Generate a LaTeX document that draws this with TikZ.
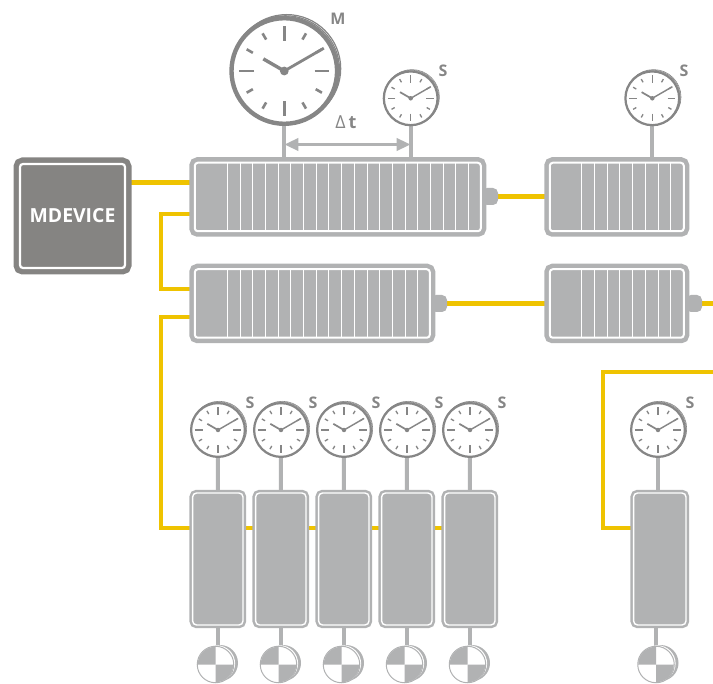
\documentclass[tikz,border=0pt]{standalone}
\usepackage{fontspec}
\setmainfont{Open Sans}
\usetikzlibrary{arrows.meta,backgrounds}
\definecolor{wireyellow}{HTML}{EFC300}
\definecolor{boxgrey}{HTML}{B1B2B3}
\definecolor{devgrey}{HTML}{858482}
\definecolor{clockgrey}{HTML}{868686}

\tikzset{
  module/.style={rectangle, outer sep=0pt, rounded corners=3pt, draw=white, fill=boxgrey, line width=2pt,
    preaction={draw=boxgrey, line width=11pt}, minimum height=68.5pt},
  slave/.style={rectangle, outer sep=0pt, rounded corners=4pt, draw=white, fill=boxgrey, line width=1.4pt,
    preaction={draw=boxgrey, line width=6.4pt}, minimum height=132pt},
  device/.style={rectangle, outer sep=0pt, rounded corners=3pt, draw=white, fill=devgrey, line width=2.2pt,
    preaction={draw=devgrey, line width=13pt}, minimum width=105pt, minimum height=104pt,
    text=white, font=\bfseries\fontsize{19.4}{19.4}\selectfont},
  stub/.style={rectangle, rounded corners=5pt, fill=boxgrey, minimum width=16pt, minimum height=17pt, inner sep=0pt},
  wire/.style={draw=wireyellow, line width=4.4pt},
  stem/.style={draw=boxgrey, line width=4pt},
  stripe/.style={draw=white, line width=1pt},
  dial/.style={circle, draw=clockgrey, fill=white, inner sep=0pt},
  encoder/.style={circle, draw=boxgrey, fill=white, line width=1pt, inner sep=0pt, minimum size=36.5pt},
  tag/.style={text=clockgrey, font=\bfseries\fontsize{16}{16}\selectfont}
}

% name, x, y, radius
\newcommand{\clockdial}[4]{
  \pgfmathsetmacro{\cs}{#4/55}
  \draw[clockgrey, line width=\cs*1.2pt] (#2+\cs*2.4,#3-\cs*2.4) circle ({#4-\cs*1});
  \draw[clockgrey, line width=\cs*1.2pt] (#2+\cs*1.2,#3-\cs*1.2) circle ({#4-\cs*1});
  \node[dial, line width=\cs*4.4pt, minimum size=2*#4*1pt-\cs*4.4pt] (#1) at (#2,#3) {};
  \foreach \a in {0,90,180,270}
    \draw[clockgrey, line width=\cs*2.4pt] (#1.center)++(\a:{#4*0.55}) -- ++(\a:{#4*0.27});
  \foreach \a in {30,60,120,150,210,240,300,330}
    \draw[clockgrey, line width=\cs*2.6pt] (#1.center)++(\a:{#4*0.66}) -- ++(\a:{#4*0.13});
  \draw[clockgrey, line width=\cs*3.4pt] (#1.center) -- ++(210:{#4*0.44});
  \draw[clockgrey, line width=\cs*2.8pt] (#1.center) -- ++(-30:{#4*0.83});
  \fill[clockgrey] (#1.center) circle ({\cs*4.4});
}

% name, x, y
\newcommand{\encoderdisc}[3]{
  \fill[boxgrey] (#2+4.5,#3-1.5) circle (18);
  \fill[white] (#2+1.4,#3-1) circle (18.2);
  \node[encoder] (#1) at (#2,#3) {};
  \fill[boxgrey] (#1.center) -- ++(-17.8,0) arc[start angle=180, end angle=270, radius=17.8] -- cycle;
  \fill[boxgrey] (#1.center) -- ++(17.8,0) arc[start angle=0, end angle=90, radius=17.8] -- cycle;
}

% name, first offset, number of stripes
\newcommand{\stripes}[3]{
  \foreach \k in {0,...,#3}
    \draw[stripe] ([xshift=#2pt+\k*12.7pt]#1.north west) -- ([xshift=#2pt+\k*12.7pt]#1.south west);
}

\begin{document}
\begin{tikzpicture}[x=1pt,y=-1pt]
  \useasboundingbox (0,0) rectangle (713,684);

  % Device and modules
  \node[device] (mdevice) at (72.5,216) {MDEVICE};
  \node[stub] (stubA) at (490,196.5) {};
  \node[module, minimum width=286pt] (modA) at (337.8,197) {};
  \node[stub] (stubB) at (439,303.5) {};
  \node[module, minimum width=235pt] (modB) at (312.3,303.5) {};
  \node[module, minimum width=134pt] (modC) at (616.8,197) {};
  \node[stub] (stubD) at (694,303.5) {};
  \node[module, minimum width=134pt] (modD) at (616.8,303.5) {};
  \stripes{modA}{32.5}{19}
  \stripes{modB}{32.5}{15}
  \stripes{modC}{32}{7}
  \stripes{modD}{32}{7}

  % Slaves
  \node[slave, minimum width=50.4pt] (slvA) at (217.8,559) {};
  \node[slave, minimum width=50.4pt] (slvB) at (280.8,559) {};
  \node[slave, minimum width=50.4pt] (slvC) at (343.8,559) {};
  \node[slave, minimum width=50.4pt] (slvD) at (406.8,559) {};
  \node[slave, minimum width=50.4pt] (slvE) at (469.8,559) {};
  \node[slave, minimum width=52.4pt] (slvF) at (659.8,559) {};

  % Clocks
  \clockdial{clkM}{284.3}{71}{55}
  \clockdial{clkS}{410.7}{98.3}{28}
  \clockdial{clkC}{652.3}{98.3}{28}
  \clockdial{clkA}{218}{430}{28}
  \clockdial{clkB}{281}{430}{28}
  \clockdial{clkD}{344}{430}{28}
  \clockdial{clkE}{407}{430}{28}
  \clockdial{clkG}{470}{430}{28}
  \clockdial{clkF}{658}{430}{28}

  % Encoders
  \encoderdisc{encA}{215.5}{664.5}
  \encoderdisc{encB}{278.5}{664.5}
  \encoderdisc{encC}{341.5}{664.5}
  \encoderdisc{encD}{404.5}{664.5}
  \encoderdisc{encE}{467.5}{664.5}
  \encoderdisc{encF}{656}{664.5}

  % Labels
  \node[tag] (tagM) at (338,19) {M};
  \node[tag] (tagS) at (443,71) {S};
  \node[tag] (tagC) at (684,71) {S};
  \node[tag] (tagA) at (250,403) {S};
  \node[tag] (tagB) at (313,403) {S};
  \node[tag] (tagD) at (376,403) {S};
  \node[tag] (tagE) at (439,403) {S};
  \node[tag] (tagG) at (502,403) {S};
  \node[tag] (tagF) at (690,403) {S};
  \node[text=clockgrey, font=\fontsize{18}{18}\selectfont] (dt) at (346,122) {Δ\,\textbf{t}};

  % Delta t arrow
  \coordinate (dtL) at ([yshift=-18.5pt]clkM.south);
  \coordinate (dtR) at (clkS.south |- dtL);
  \draw[boxgrey, line width=3.4pt, {Triangle[length=14pt,width=12pt]}-{Triangle[length=14pt,width=12pt]}] (dtL) -- (dtR);

  \coordinate (exitD) at (713,303.5);
  \coordinate (exitF) at (713,372);

  \begin{scope}[on background layer]
    % Bus lines
    \draw[wire] ([yshift=33.5pt]mdevice.east) -- ([yshift=14.5pt]modA.west);
    \draw[wire] ([yshift=-17pt]modA.west) -| (161,289) -- ([yshift=14.5pt]modB.west);
    \draw[wire] ([yshift=-13.5pt]modB.west) -| (161,528) -- (slvE.center |- 0,528);
    \draw[wire] (stubA.east) -- (modC.west |- stubA.east);
    \draw[wire] (stubB.east) -- (modD.west);
    \draw[wire] (stubD.east) -- (exitD);
    \draw[wire] (exitF) -| (603,528) -- (slvF.west |- 0,528);

    % Stems
    \draw[stem] (clkM.south) -- (clkM.south |- modA.north);
    \draw[stem] (clkS.south) -- (clkS.south |- modA.north);
    \draw[stem] (clkC.south) -- (clkC.south |- modC.north);
    \draw[stem] (clkA.south) -- (slvA.north);
    \draw[stem] (clkB.south) -- (slvB.north);
    \draw[stem] (clkD.south) -- (slvC.north);
    \draw[stem] (clkE.south) -- (slvD.north);
    \draw[stem] (clkG.south) -- (slvE.north);
    \draw[stem] (clkF.south) -- (clkF.south |- slvF.north);
    \draw[stem] (slvA.south) -- (slvA.south |- encA.north);
    \draw[stem] (slvB.south) -- (slvB.south |- encB.north);
    \draw[stem] (slvC.south) -- (slvC.south |- encC.north);
    \draw[stem] (slvD.south) -- (slvD.south |- encD.north);
    \draw[stem] (slvE.south) -- (slvE.south |- encE.north);
    \draw[stem] (encF.north |- slvF.south) -- (encF.north);
  \end{scope}
\end{tikzpicture}
\end{document}
